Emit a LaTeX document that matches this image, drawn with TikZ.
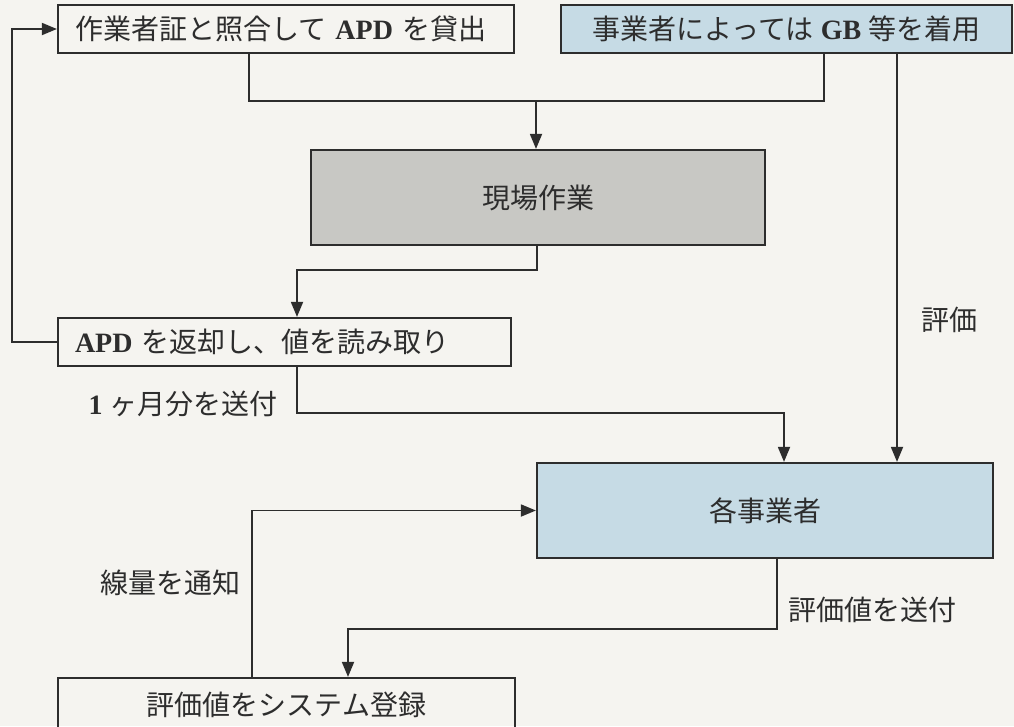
\documentclass[tikz,border=0pt]{standalone}
\usepackage{fontspec}
\setmainfont{Liberation Serif}
\newfontfamily\jp{Noto Sans CJK JP}
\usetikzlibrary{arrows.meta}
\definecolor{paper}{RGB}{245,244,240}
\definecolor{ink}{RGB}{45,45,45}
\definecolor{paleblue}{RGB}{198,219,229}
\definecolor{palegray}{RGB}{200,200,196}
\newcommand\J[1]{{\jp #1}}
\newcommand\LL[1]{{\bfseries #1}}
\tikzset{
  box/.style={draw=ink, line width=2.2pt, rectangle, inner sep=0pt, font=\fontsize{28}{32}\selectfont, text=ink},
  lbl/.style={inner sep=0pt, font=\fontsize{28}{32}\selectfont, text=ink},
  conn/.style={draw=ink, line width=1.8pt},
  arr/.style={conn, -{Triangle[length=15pt,width=12pt]}},
}
\begin{document}
\begin{tikzpicture}[x=1pt,y=-1pt]
\clip (0,0) rectangle (1014,726);
\fill[paper] (0,0) rectangle (1014,726);
% boxes
\node[box, minimum width=456pt, minimum height=48pt, text width=422pt, align=left] (b1) at (286,29) {\J{作業者証と照合して} \LL{APD} \J{を貸出}};
\node[box, fill=paleblue, minimum width=451pt, minimum height=48pt] (b2) at (786.5,29) {\J{事業者によっては} \LL{GB} \J{等を着用}};
\node[box, fill=palegray, minimum width=454pt, minimum height=95pt] (b3) at (538,197.5) {\J{現場作業}};
\node[box, minimum width=453pt, minimum height=48pt, text width=419pt, align=left] (b4) at (284.5,342) {\LL{APD} \J{を返却し、値を読み取り}};
\node[box, fill=paleblue, minimum width=456pt, minimum height=95pt] (b5) at (765,510.5) {\J{各事業者}};
\node[box, minimum width=457pt, minimum height=56pt] (b6) at (286.5,706) {\raisebox{5pt}{\J{評価値をシステム登録}}};
% labels
\node[lbl] (l1) at (183,404) {\LL{1} \J{ヶ月分を送付}};
\node[lbl] (l2) at (949,320) {\J{評価}};
\node[lbl] (l3) at (872,610) {\J{評価値を送付}};
\node[lbl] (l4) at (170,583) {\J{線量を通知}};
% coordinates
\coordinate (c1) at (249,101);
\coordinate (c2) at (824,101);
\coordinate (c3) at (536,101);
\coordinate (c4) at (297,270);
\coordinate (c5) at (12,0);
\coordinate (c6) at (297,413);
\coordinate (c7) at (784,413);
\coordinate (c8) at (897,0);
\coordinate (c9) at (777,629);
\coordinate (c10) at (348,629);
\coordinate (c11) at (252,0);
\coordinate (c12) at (537,0);
% connectors
\draw[conn] (b1.south -| c1) |- (c2) -- (b2.south -| c2);
\draw[arr] (c3) -- (b3.north -| c3);
\draw[arr] (b3.south -| c12) |- (c4) -- (b4.north -| c4);
\draw[arr] (b4.west) -- (b4.west -| c5) |- (b1.west);
\draw[arr] (b4.south -| c6) |- (c7) -- (b5.north -| c7);
\draw[arr] (b2.south -| c8) -- (b5.north -| c8);
\draw[arr] (b5.south -| c9) |- (c10) -- (b6.north -| c10);
\draw[arr] (b6.north -| c11) |- (b5.west);
\end{tikzpicture}
\end{document}
